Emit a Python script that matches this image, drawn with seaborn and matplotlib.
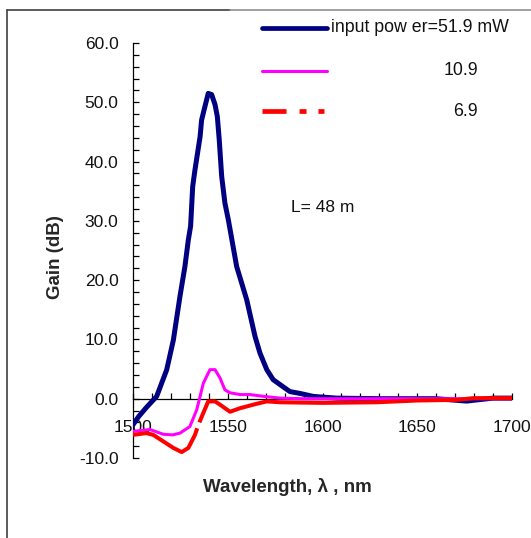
import matplotlib
matplotlib.use("Agg")
import matplotlib.pyplot as plt
from matplotlib.lines import Line2D
from matplotlib.ticker import MultipleLocator, FormatStrFormatter
import seaborn as sns
import pandas as pd

# ---- data ----
wl_519 = [1500, 1503, 1507, 1512.5, 1517.8, 1521.3, 1524.8, 1527.4, 1529.2, 1530.4, 1531.5,
          1532.7, 1535.4, 1536.2, 1537.5, 1539.7, 1541.5, 1543.3, 1544.5, 1545.5, 1546.8,
          1548.5, 1550.3, 1554.7, 1560, 1564.4, 1567, 1570.6, 1574, 1582.8, 1588, 1595,
          1598.7, 1607.5, 1630, 1660, 1676, 1690, 1700]
g_519 = [-4.4, -3.0, -1.5, 0.4, 4.9, 9.9, 17.3, 22.3, 26.8, 29.1, 35.8,
         38.6, 44.2, 47.0, 48.7, 51.5, 51.3, 49.6, 47.6, 43.7, 37.5,
         33.0, 30.2, 22.3, 16.7, 10.5, 7.7, 4.9, 3.2, 1.2, 0.9, 0.4,
         0.3, 0.1, 0.0, 0.0, -0.4, 0.1, 0.1]

wl_109 = [1500, 1509, 1516, 1521, 1524.8, 1530, 1533.6, 1535.4, 1537.1, 1540.6, 1543.3,
          1545.9, 1548.5, 1551.2, 1556.5, 1561.7, 1568.9, 1577.6, 1590, 1650, 1700]
g_109 = [-5.5, -5.2, -6.0, -6.1, -5.8, -4.7, -1.9, 0.4, 2.6, 4.9, 4.9,
         3.5, 1.5, 1.0, 0.7, 0.7, 0.4, 0.1, 0.0, 0.0, 0.0]

wl_69 = [1500, 1507, 1510.7, 1516, 1521.3, 1525.7, 1529.2, 1532.7, 1534.5, 1537.1, 1539.7,
         1543.3, 1545.9, 1551.2, 1556.5, 1565.3, 1570.6, 1577.6, 1600, 1628.5, 1650,
         1670.8, 1679.6, 1700]
g_69 = [-6.1, -5.8, -6.1, -7.2, -8.3, -9.0, -8.3, -6.1, -4.4, -2.4, -0.45,
        -0.45, -1.0, -2.2, -1.6, -0.85, -0.45, -0.6, -0.7, -0.6, -0.3,
        -0.2, 0.1, 0.1]

series_labels = ["input pow er=51.9 mW", "10.9", "6.9"]
colors = ["#000080", "#FF00FF", "#FF0000"]
x_label = "Wavelength, \u03bb , nm"
y_label = "Gain (dB)"
note = "L= 48 m"

# ---- styling ----
sns.set_style("white")
plt.rcParams["font.family"] = ["Liberation Sans", "DejaVu Sans"]
plt.rcParams["lines.scale_dashes"] = False

W, H = 531, 538
fig = plt.figure(figsize=(W / 100, H / 100), dpi=100)
ax_left, ax_right, ax_top, ax_bot = 133, 512, 43, 458
ax = fig.add_axes([ax_left / W, 1 - ax_bot / H, (ax_right - ax_left) / W, (ax_bot - ax_top) / H])

df1 = pd.DataFrame({"wl": wl_519, "g": g_519})
df2 = pd.DataFrame({"wl": wl_109, "g": g_109})
df3 = pd.DataFrame({"wl": wl_69, "g": g_69})

sns.lineplot(data=df1, x="wl", y="g", ax=ax, color=colors[0], lw=3.6, sort=False,
             zorder=3, solid_joinstyle="round", solid_capstyle="round")
sns.lineplot(data=df2, x="wl", y="g", ax=ax, color=colors[1], lw=2.2, sort=False,
             zorder=3.1, solid_joinstyle="round")
sns.lineplot(data=df3, x="wl", y="g", ax=ax, color=colors[2], lw=2.9, sort=False,
             zorder=3.2, linestyle=(52, (112, 4.5, 500, 4.5)))

ax.set_xlim(1500, 1700)
ax.set_ylim(-10, 60)

for s in ["top", "right"]:
    ax.spines[s].set_visible(False)
ax.spines["bottom"].set_position(("data", 0))
ax.spines["bottom"].set_color("black")
ax.spines["left"].set_color("black")
ax.spines["bottom"].set_linewidth(0.9)
ax.spines["left"].set_linewidth(0.9)
ax.spines["bottom"].set_zorder(2.9)

ax.xaxis.set_major_locator(MultipleLocator(50))
ax.xaxis.set_minor_locator(MultipleLocator(10))
ax.yaxis.set_major_locator(MultipleLocator(10))
ax.yaxis.set_minor_locator(MultipleLocator(2))
ax.yaxis.set_major_formatter(FormatStrFormatter("%.1f"))
ax.xaxis.set_major_formatter(FormatStrFormatter("%d"))

ax.tick_params(axis="both", which="both", direction="in", color="black", width=0.9,
               bottom=True, left=True, labelsize=12.5, labelcolor="#111111")
ax.tick_params(axis="both", which="major", length=4)
ax.tick_params(axis="both", which="minor", length=4)
ax.tick_params(axis="x", which="major", pad=15)
ax.tick_params(axis="y", which="major", pad=10.5)

ax.set_xlabel(x_label, fontsize=13.5, fontweight="bold")
ax.set_ylabel(y_label, fontsize=13.5, fontweight="bold")
ax.xaxis.set_label_coords((287 - ax_left) / (ax_right - ax_left), (ax_bot - 478) / (ax_bot - ax_top))
ax.yaxis.set_label_coords((64 - ax_left) / (ax_right - ax_left), (ax_bot - 257) / (ax_bot - ax_top))

fig.text(291 / W, 1 - 208 / H, note, fontsize=12.5, va="center", ha="left", color="#111111")

# ---- legend (Excel-like layout) ----
leg_x0, leg_x1 = 262 / W, 327 / W
leg_y = [1 - 28 / H, 1 - 70.5 / H, 1 - 111 / H]
fig.add_artist(Line2D([leg_x0, leg_x1], [leg_y[0]] * 2, transform=fig.transFigure,
                      color=colors[0], lw=3.4, solid_capstyle="round"))
fig.add_artist(Line2D([leg_x0, leg_x1], [leg_y[1]] * 2, transform=fig.transFigure,
                      color=colors[1], lw=2.2, solid_capstyle="round"))
fig.add_artist(Line2D([leg_x0, leg_x1], [leg_y[2]] * 2, transform=fig.transFigure,
                      color=colors[2], lw=3.4, linestyle=(0, (17.3, 9.4, 5, 8.6, 4.3, 30))))
fig.text(331 / W, leg_y[0], series_labels[0], fontsize=12.8, va="center", ha="left", color="#111111")
fig.text(478 / W, leg_y[1], series_labels[1], fontsize=12.8, va="center", ha="right", color="#111111")
fig.text(478 / W, leg_y[2], series_labels[2], fontsize=12.8, va="center", ha="right", color="#111111")

# ---- outer frame ----
fig.add_artist(Line2D([7 / W, 7 / W], [-0.1, 1 - 10 / H], transform=fig.transFigure,
                      color="#404040", lw=1.2))
fig.add_artist(Line2D([7 / W, 230 / W], [1 - 10 / H] * 2, transform=fig.transFigure,
                      color="#404040", lw=1.2))
fig.add_artist(Line2D([230 / W, 1.1], [1 - 10 / H] * 2, transform=fig.transFigure,
                      color="#909090", lw=1.2))

fig.savefig("out.png", dpi=100)
